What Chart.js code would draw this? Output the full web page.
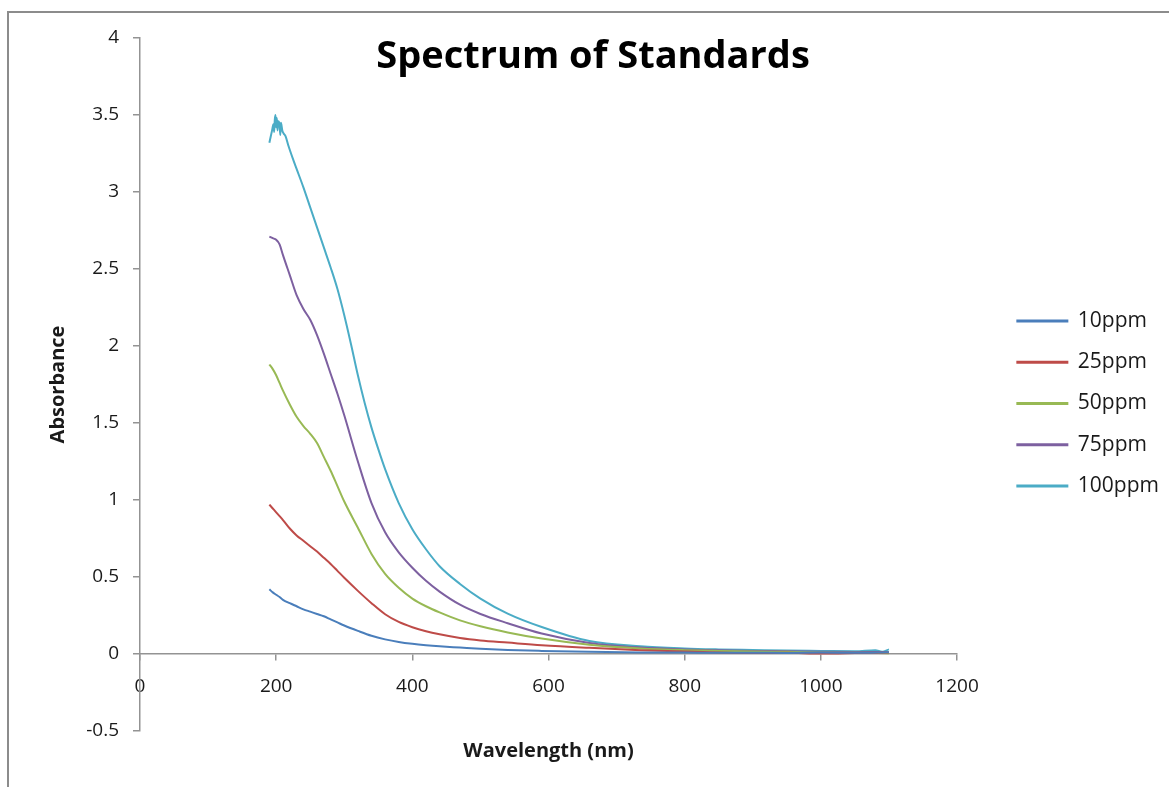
<!DOCTYPE html>
<html>
<head>
<meta charset="utf-8">
<script src="https://cdn.jsdelivr.net/npm/chart.js@4.4.1/dist/chart.umd.min.js"></script>
<style>
  html, body { margin: 0; padding: 0; background: #fff; }
  #wrap { position: relative; width: 1169px; height: 787px; overflow: hidden; }
  #frame { position: absolute; left: 7px; top: 11px; right: -10px; bottom: -10px;
           border-left: 2px solid #8c8c8c; border-top: 2px solid #8c8c8c; }
  canvas { position: absolute; left: 0; top: 0; }
</style>
</head>
<body>
<div id="wrap">
  <div id="frame"></div>
  <canvas id="specChart" width="1169" height="787"></canvas>
</div>
<script>
// ---- data ----
const chartTitle = 'Spectrum of Standards';
const seriesNames = ['10ppm', '25ppm', '50ppm', '75ppm', '100ppm'];
const seriesColors = ['#4a7ebb', '#be4b48', '#98b954', '#7d60a0', '#4bacc6'];

const wavelengths = [190, 195, 200, 205, 210, 220, 230, 240, 250, 260, 270, 280, 290, 300, 320, 340,
                     360, 380, 400, 420, 440, 470, 500, 540, 590, 660, 735, 800, 850, 900, 950, 1000, 1050, 1100];
const abs10 = [0.42, 0.40, 0.385, 0.37, 0.352, 0.33, 0.31, 0.29, 0.275, 0.26, 0.245, 0.225, 0.205, 0.185, 0.15, 0.118,
               0.095, 0.078, 0.066, 0.057, 0.05, 0.042, 0.034, 0.026, 0.02, 0.014, 0.01, 0.009, 0.008, 0.008, 0.007, 0.009, 0.008, 0.012];
const abs25 = [0.97, 0.945, 0.92, 0.895, 0.87, 0.815, 0.77, 0.735, 0.70, 0.665, 0.625, 0.585, 0.54, 0.495, 0.41, 0.33,
               0.258, 0.208, 0.174, 0.148, 0.128, 0.104, 0.088, 0.074, 0.057, 0.04, 0.025, 0.016, 0.01, 0.006, 0.008, 0.003, 0.006, 0.01];
const abs50 = [1.88, 1.85, 1.81, 1.76, 1.71, 1.62, 1.54, 1.48, 1.43, 1.37, 1.28, 1.19, 1.09, 0.99, 0.82, 0.65,
               0.52, 0.43, 0.36, 0.31, 0.27, 0.218, 0.18, 0.14, 0.10, 0.06, 0.036, 0.025, 0.02, 0.016, 0.014, 0.01, 0.008, 0.005];
const abs75 = [2.71, 2.70, 2.69, 2.66, 2.59, 2.46, 2.33, 2.24, 2.17, 2.07, 1.95, 1.82, 1.69, 1.55, 1.25, 0.98,
               0.79, 0.66, 0.56, 0.475, 0.405, 0.32, 0.26, 0.20, 0.133, 0.072, 0.042, 0.03, 0.025, 0.02, 0.018, 0.015, 0.013, 0.012];

// the 100ppm trace is noisy near the peak, so it has its own wavelength list
const wl100 = [190, 192, 194, 196, 197, 198, 199, 200, 201, 202, 203, 205, 206, 207, 209, 211, 214, 218, 225, 230,
               240, 250, 260, 270, 280, 290, 300, 310, 320, 330, 340, 350, 360, 380, 400, 420, 440, 470, 500, 540,
               590, 660, 735, 800, 850, 900, 950, 1000, 1050, 1080, 1090, 1100];
const abs100 = [3.32, 3.36, 3.40, 3.44, 3.39, 3.47, 3.50, 3.42, 3.48, 3.40, 3.46, 3.44, 3.37, 3.45, 3.40, 3.38, 3.36, 3.30, 3.21, 3.15,
                3.03, 2.90, 2.77, 2.64, 2.51, 2.37, 2.20, 2.01, 1.81, 1.63, 1.47, 1.33, 1.20, 0.98, 0.81, 0.68, 0.57, 0.455, 0.36, 0.262,
                0.175, 0.084, 0.05, 0.036, 0.03, 0.026, 0.022, 0.02, 0.018, 0.025, 0.015, 0.03];

const xTicks = { min: 0, max: 1200, step: 200 };
const yTicks = { min: -0.5, max: 4, step: 0.5 };

// ---- chart ----
const axisColor = '#939393';
const textColor = '#1a1a1a';
const fontFamily = '"Open Sans", "Liberation Sans", sans-serif';

function toPoints(xs, ys) {
    return xs.map((x, i) => ({ x: x, y: ys[i] }));
}

const seriesData = [
    toPoints(wavelengths, abs10),
    toPoints(wavelengths, abs25),
    toPoints(wavelengths, abs50),
    toPoints(wavelengths, abs75),
    toPoints(wl100, abs100)
];

const titlePlugin = {
    id: 'excelTitle',
    afterDraw(chart) {
        const ctx = chart.ctx;
        ctx.save();
        ctx.font = 'bold 38px ' + fontFamily;
        ctx.fillStyle = '#000';
        ctx.textAlign = 'center';
        ctx.textBaseline = 'middle';
        ctx.fillText(chartTitle, 593, 57);
        ctx.restore();
    }
};

new Chart(document.getElementById('specChart'), {
    type: 'line',
    data: {
        datasets: seriesNames.map((name, i) => ({
            label: name,
            data: seriesData[i],
            borderColor: seriesColors[i],
            backgroundColor: seriesColors[i],
            borderWidth: 2,
            pointRadius: 0,
            fill: false,
            cubicInterpolationMode: 'monotone'
        }))
    },
    options: {
        responsive: false,
        animation: false,
        events: [],
        layout: { padding: { left: 0, top: 38, right: 0, bottom: 56 } },
        plugins: {
            tooltip: { enabled: false },
            legend: {
                position: 'right',
                align: 'center',
                title: { display: true, text: ' ', font: { size: 10 }, padding: 13 },
                labels: {
                    boxWidth: 50,
                    boxHeight: 1,
                    padding: 20.3,
                    color: textColor,
                    font: { family: fontFamily, size: 21 }
                }
            }
        },
        scales: {
            x: {
                type: 'linear',
                position: { y: 0 },
                min: xTicks.min,
                max: xTicks.max,
                ticks: {
                    stepSize: xTicks.step, color: textColor, padding: 15,
                    font: { family: fontFamily, size: 19 },
                    callback: v => String(v)
                },
                grid: { drawOnChartArea: false, drawTicks: true, tickLength: 6, color: axisColor, lineWidth: 1.5 },
                border: { color: axisColor, width: 1.5 },
                title: {
                    display: true,
                    text: 'Wavelength (nm)',
                    color: textColor,
                    font: { family: fontFamily, size: 20, weight: 'bold' },
                    padding: { top: 26, bottom: 0 }
                }
            },
            y: {
                position: 'left',
                min: yTicks.min,
                max: yTicks.max,
                ticks: {
                    stepSize: yTicks.step, color: textColor, padding: 14,
                    font: { family: fontFamily, size: 19 },
                    callback: v => String(v)
                },
                grid: { drawOnChartArea: false, drawTicks: true, tickLength: 7, color: axisColor, lineWidth: 1.5 },
                border: { color: axisColor, width: 1.5 },
                title: {
                    display: true,
                    text: 'Absorbance',
                    color: textColor,
                    font: { family: fontFamily, size: 20, weight: 'bold' },
                    padding: { top: 46, bottom: 0 }
                },
                afterFit(scale) { scale.width = 140; }
            },
            gap: {
                position: 'right',
                display: true,
                ticks: { display: false },
                grid: { display: false },
                border: { display: false },
                afterFit(scale) { scale.width = 40; }
            }
        }
    },
    plugins: [titlePlugin]
});
</script>
</body>
</html>
